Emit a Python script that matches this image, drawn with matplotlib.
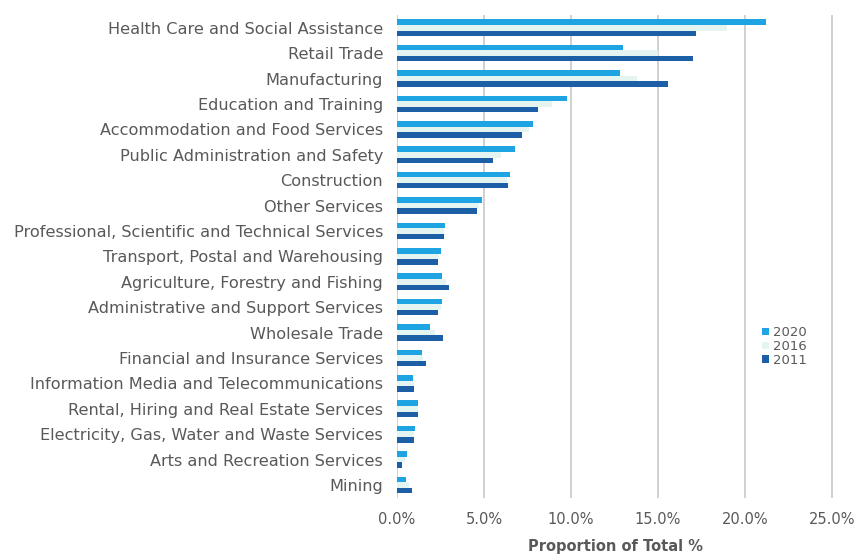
import numpy as np
import matplotlib
matplotlib.use("Agg")
import matplotlib.pyplot as plt
from matplotlib.ticker import FuncFormatter

plt.rcParams['font.family'] = ['DejaVu Sans']

# industries, largest first
industries = [
    'Health Care and Social Assistance', 'Retail Trade', 'Manufacturing',
    'Education and Training', 'Accommodation and Food Services',
    'Public Administration and Safety', 'Construction', 'Other Services',
    'Professional, Scientific and Technical Services',
    'Transport, Postal and Warehousing', 'Agriculture, Forestry and Fishing',
    'Administrative and Support Services', 'Wholesale Trade',
    'Financial and Insurance Services', 'Information Media and Telecommunications',
    'Rental, Hiring and Real Estate Services',
    'Electricity, Gas, Water and Waste Services',
    'Arts and Recreation Services', 'Mining',
]

# share of total employment, %
share_2020 = [21.2, 13.0, 12.8, 9.8, 7.8, 6.8, 6.5, 4.9, 2.75, 2.5, 2.6, 2.6,
              1.9, 1.45, 0.9, 1.2, 1.05, 0.55, 0.5]
share_2016 = [19.0, 15.0, 13.8, 8.9, 7.6, 6.0, 6.3, 4.7, 2.7, 2.4, 2.8, 2.5,
              2.2, 1.5, 0.95, 1.2, 1.0, 0.45, 0.7]
share_2011 = [17.2, 17.0, 15.6, 8.1, 7.2, 5.5, 6.4, 4.6, 2.7, 2.35, 3.0, 2.35,
              2.65, 1.65, 1.0, 1.2, 1.0, 0.3, 0.85]

years = ['2020', '2016', '2011']
colors = ['#1ea3e3', '#e4f4f0', '#1d5fa6']
grey = '#595959'

fig = plt.figure(figsize=(8.62, 5.56), dpi=100)
ax = fig.add_axes([0.4606, 0.105, 0.5064, 0.868])

y = np.arange(len(industries))
h = 0.22
for i, (vals, yr, c) in enumerate(zip([share_2020, share_2016, share_2011], years, colors)):
    ax.barh(y + (i - 1) * h, vals, height=h, color=c, label=yr, zorder=3)

ax.set_yticks(y)
ax.set_yticklabels(industries, fontsize=11.6, color=grey)
ax.set_ylim(len(industries) - 0.5, -0.5)

ax.set_xlim(0, 25.1)
ax.set_xticks(np.arange(0, 26, 5))
ax.xaxis.set_major_formatter(FuncFormatter(lambda v, p: f'{v:.1f}%'))
ax.tick_params(axis='x', labelsize=10.5, labelcolor=grey, length=0, pad=10)
ax.tick_params(axis='y', length=0, pad=10)
ax.grid(axis='x', color='#c8c8c8', linewidth=1.2, zorder=0)
for s in ax.spines.values():
    s.set_visible(False)

ax.set_xlabel('Proportion of Total %', fontsize=10.5, fontweight='bold',
              color=grey, labelpad=9)

ax.legend(loc='center left', bbox_to_anchor=(0.824, 0.313), frameon=False,
          fontsize=9.5, labelcolor=grey, handlelength=0.5, handleheight=0.5,
          handletextpad=0.3, labelspacing=0.05, borderaxespad=0)

fig.savefig('out.png', dpi=100)
